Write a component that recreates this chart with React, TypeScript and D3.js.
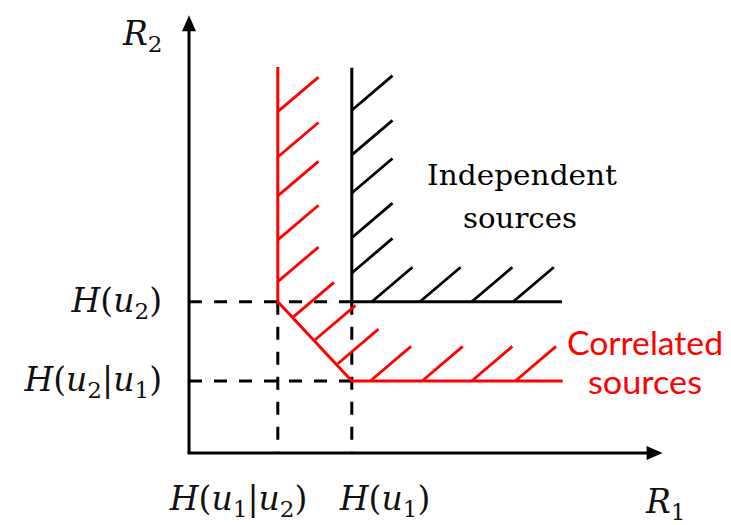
import React from "react";
import * as d3 from "d3";

// rate axes, arbitrary units
const xMax = 6.4;
const yMax = 6.08;

const ticksR1 = [
  { label: "H(u_1|u_2)", value: 1.2 },
  { label: "H(u_1)", value: 2.2 },
];
const ticksR2 = [
  { label: "H(u_2)", value: 2.1 },
  { label: "H(u_2|u_1)", value: 1.0 },
];
const axisNames = ["R_1", "R_2"];

// corner of each achievable rate region, drawn as open boundaries
const independentEdge: [number, number][] = [[2.2, 5.35], [2.2, 2.1], [5.04, 2.1]];
const correlatedEdge: [number, number][] = [[1.2, 5.36], [1.2, 2.1], [2.2, 1.0], [5.05, 1.0]];

// where each hatch stroke leaves the boundary
const independentHatch: [number, number][] = [
  [2.2, 4.76], [2.2, 4.14], [2.2, 3.61], [2.2, 2.99], [2.2, 2.5],
  [2.47, 2.1], [3.12, 2.1], [3.82, 2.1], [4.38, 2.1],
];
const correlatedHatch: [number, number][] = [
  [1.2, 4.74], [1.2, 4.11], [1.2, 3.57], [1.2, 2.96], [1.2, 2.38],
  [1.41, 1.89], [1.7, 1.57], [2.01, 1.24],
  [2.45, 1.0], [3.15, 1.0], [3.82, 1.0], [4.41, 1.0],
];
const hatchStep = [0.55, 0.48];

const regionNames = [
  { lines: ["Independent", "sources"], color: "#000" },
  { lines: ["Correlated", "sources"], color: "#ff0000" },
];

const W = 731;
const H = 525;
const RED = "#ff0000";
const MATH = "'DejaVu Serif', 'Liberation Serif', serif";

// crude math text: letters italic, "_x" is a subscript
const MathText = ({ s, x, y, anchor = "start", size = 33 }: any) => {
  const parts: any[] = [];
  for (let i = 0; i < s.length; i++) {
    const c = s[i];
    if (c === "_") {
      parts.push({ t: s[i + 1], sub: true });
      i++;
    } else {
      parts.push({ t: c, it: /[A-Za-z]/.test(c) });
    }
  }
  const shift = size * 0.22;
  let down = false;
  return (
    <text x={x} y={y} textAnchor={anchor} fontFamily={MATH} fontSize={size} fill="#111">
      {parts.map((p, i) => {
        let dy = 0;
        if (p.sub && !down) { dy = shift; down = true; }
        else if (!p.sub && down) { dy = -shift; down = false; }
        return (
          <tspan key={i} dy={dy || undefined} fontStyle={p.it ? "italic" : "normal"}
            fontSize={p.sub ? size * 0.7 : size}>{p.t}</tspan>
        );
      })}
    </text>
  );
};

const App = () => {
  const x = d3.scaleLinear().domain([0, xMax]).range([189, 662.6]);
  const y = d3.scaleLinear().domain([0, yMax]).range([453, 15.2]);
  const line = d3.line<[number, number]>().x(d => x(d[0])).y(d => y(d[1]));

  const hatchLines = (pts: [number, number][], color: string) =>
    pts.map((p, i) => (
      <line key={i} x1={x(p[0])} y1={y(p[1])}
        x2={x(p[0] + hatchStep[0])} y2={y(p[1] + hatchStep[1])}
        stroke={color} strokeWidth={2.8} strokeLinecap="butt" />
    ));

  const x0 = x(0), y0 = y(0);
  const xEnd = x(xMax), yEnd = y(yMax);
  const dash = "13 12";

  // label offsets from the tick position, px
  const xLabelDx = [-108, -12];
  const labelBase = 510;

  return (
    <div style={{ position: "absolute", left: 0, top: 0 }}>
      <svg width={W} height={H} style={{ display: "block", background: "#fff" }}>
        {/* guide lines */}
        <g stroke="#000" strokeWidth={3} strokeDasharray={dash} fill="none">
          {ticksR2.map((t, i) => (
            <line key={"h" + i} x1={x0} x2={x(ticksR1[1].value)} y1={y(t.value)} y2={y(t.value)} />
          ))}
          {ticksR1.map((t, i) => (
            <line key={"v" + i} x1={x(t.value)} x2={x(t.value)} y1={y(ticksR2[0].value)} y2={y0} />
          ))}
        </g>

        {/* axes */}
        <g stroke="#000" strokeWidth={3}>
          <line x1={x0 - 1.5} y1={y0} x2={xEnd - 12} y2={y0} />
          <line x1={x0} y1={y0} x2={x0} y2={yEnd + 12} />
        </g>
        <path d={`M${xEnd},${y0} L${xEnd - 16},${y0 - 7} L${xEnd - 16},${y0 + 7} Z`} fill="#000" />
        <path d={`M${x0},${yEnd} L${x0 - 7},${yEnd + 16} L${x0 + 7},${yEnd + 16} Z`} fill="#000" />

        {/* regions */}
        <path d={line(independentEdge) || ""} fill="none" stroke="#000" strokeWidth={3} />
        {hatchLines(independentHatch, "#000")}
        <path d={line(correlatedEdge) || ""} fill="none" stroke={RED} strokeWidth={3} strokeLinejoin="round" />
        {hatchLines(correlatedHatch, RED)}

        {/* tick labels */}
        {ticksR1.map((t, i) => (
          <MathText key={"xl" + i} s={t.label} x={x(t.value) + xLabelDx[i]} y={labelBase} />
        ))}
        {ticksR2.map((t, i) => (
          <MathText key={"yl" + i} s={t.label} x={162} y={y(t.value) + 10} anchor="end" />
        ))}
        <MathText s={axisNames[0]} x={646} y={513} />
        <MathText s={axisNames[1]} x={123} y={45} />

        {/* region names */}
        <text fontFamily="'DejaVu Serif', serif" fontSize={28} fill={regionNames[0].color} textAnchor="middle">
          <tspan x={522} y={185} textLength={190} lengthAdjust="spacingAndGlyphs">{regionNames[0].lines[0]}</tspan>
          <tspan x={520} y={228} textLength={114} lengthAdjust="spacingAndGlyphs">{regionNames[0].lines[1]}</tspan>
        </text>
        <text fontFamily="Lato, 'Open Sans', sans-serif" fontSize={33} fill={regionNames[1].color} textAnchor="middle">
          <tspan x={645} y={355} textLength={156} lengthAdjust="spacingAndGlyphs">{regionNames[1].lines[0]}</tspan>
          <tspan x={645} y={394} textLength={114} lengthAdjust="spacingAndGlyphs">{regionNames[1].lines[1]}</tspan>
        </text>
      </svg>
    </div>
  );
};

export default App;
